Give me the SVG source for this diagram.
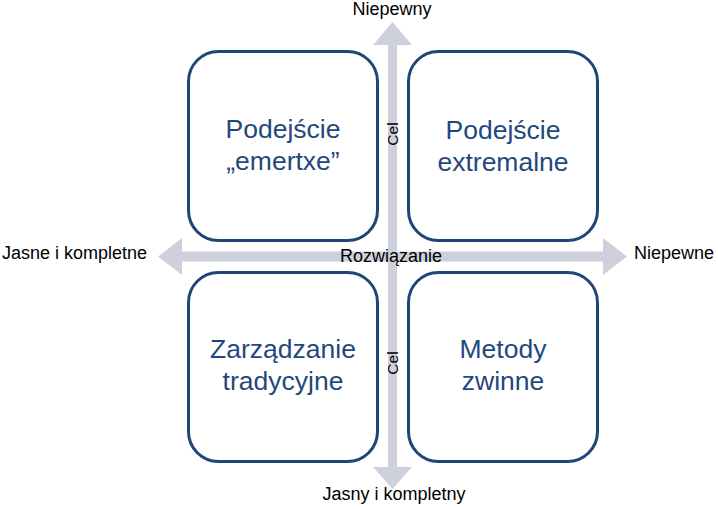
<svg xmlns="http://www.w3.org/2000/svg" width="718" height="509" viewBox="0 0 718 509">
  <style>
    .box { fill: #ffffff; stroke: #1F4677; stroke-width: 3; }
    .btxt { font-family: "Liberation Sans", Arial, sans-serif; font-size: 26.5px; fill: #1F497D; text-anchor: middle; }
    .lbl { font-family: "Liberation Sans", Arial, sans-serif; font-size: 18px; fill: #000000; }
    .cel { font-family: "Liberation Sans", Arial, sans-serif; font-size: 15.5px; fill: #000000; text-anchor: middle; }
    .arrow { fill: #CED1DB; stroke: none; }
  </style>
  <rect width="718" height="509" fill="#ffffff"/>
  <g id="connectors">
    <polygon class="arrow" points="392.5,22 412,45 397,45 397,467 412,467 392.5,489 373,467 388,467 388,45 373,45"/>
    <polygon class="arrow" points="158,256.5 182,238 182,251.5 603,251.5 603,238 627,256.5 603,275 603,261.5 182,261.5 182,275"/>
  </g>
  <g id="node-top-left">
    <rect class="box" x="188.5" y="51.5" width="189" height="189" rx="30"/>
    <text class="btxt" x="283" y="138">Podejście</text>
    <text class="btxt" x="283" y="170">„emertxe”</text>
  </g>
  <g id="node-top-right">
    <rect class="box" x="408.5" y="51.5" width="189" height="189" rx="30"/>
    <text class="btxt" x="503" y="139">Podejście</text>
    <text class="btxt" x="503" y="171">extremalne</text>
  </g>
  <g id="node-bottom-left">
    <rect class="box" x="188.5" y="272.5" width="189" height="189" rx="30"/>
    <text class="btxt" x="283" y="358">Zarządzanie</text>
    <text class="btxt" x="283" y="390">tradycyjne</text>
  </g>
  <g id="node-bottom-right">
    <rect class="box" x="408.5" y="272.5" width="189" height="189" rx="30"/>
    <text class="btxt" x="503" y="358">Metody</text>
    <text class="btxt" x="503" y="390">zwinne</text>
  </g>
  <g id="labels">
    <text class="lbl" x="392" y="15" text-anchor="middle">Niepewny</text>
    <text class="lbl" x="394" y="500" text-anchor="middle">Jasny i kompletny</text>
    <text class="lbl" x="2" y="259">Jasne i kompletne</text>
    <text class="lbl" x="634" y="259">Niepewne</text>
    <text class="lbl" x="391" y="262" text-anchor="middle">Rozwiązanie</text>
    <text class="cel" transform="translate(397.5,134) rotate(-90)">Cel</text>
    <text class="cel" transform="translate(397.5,363) rotate(-90)">Cel</text>
  </g>
</svg>
